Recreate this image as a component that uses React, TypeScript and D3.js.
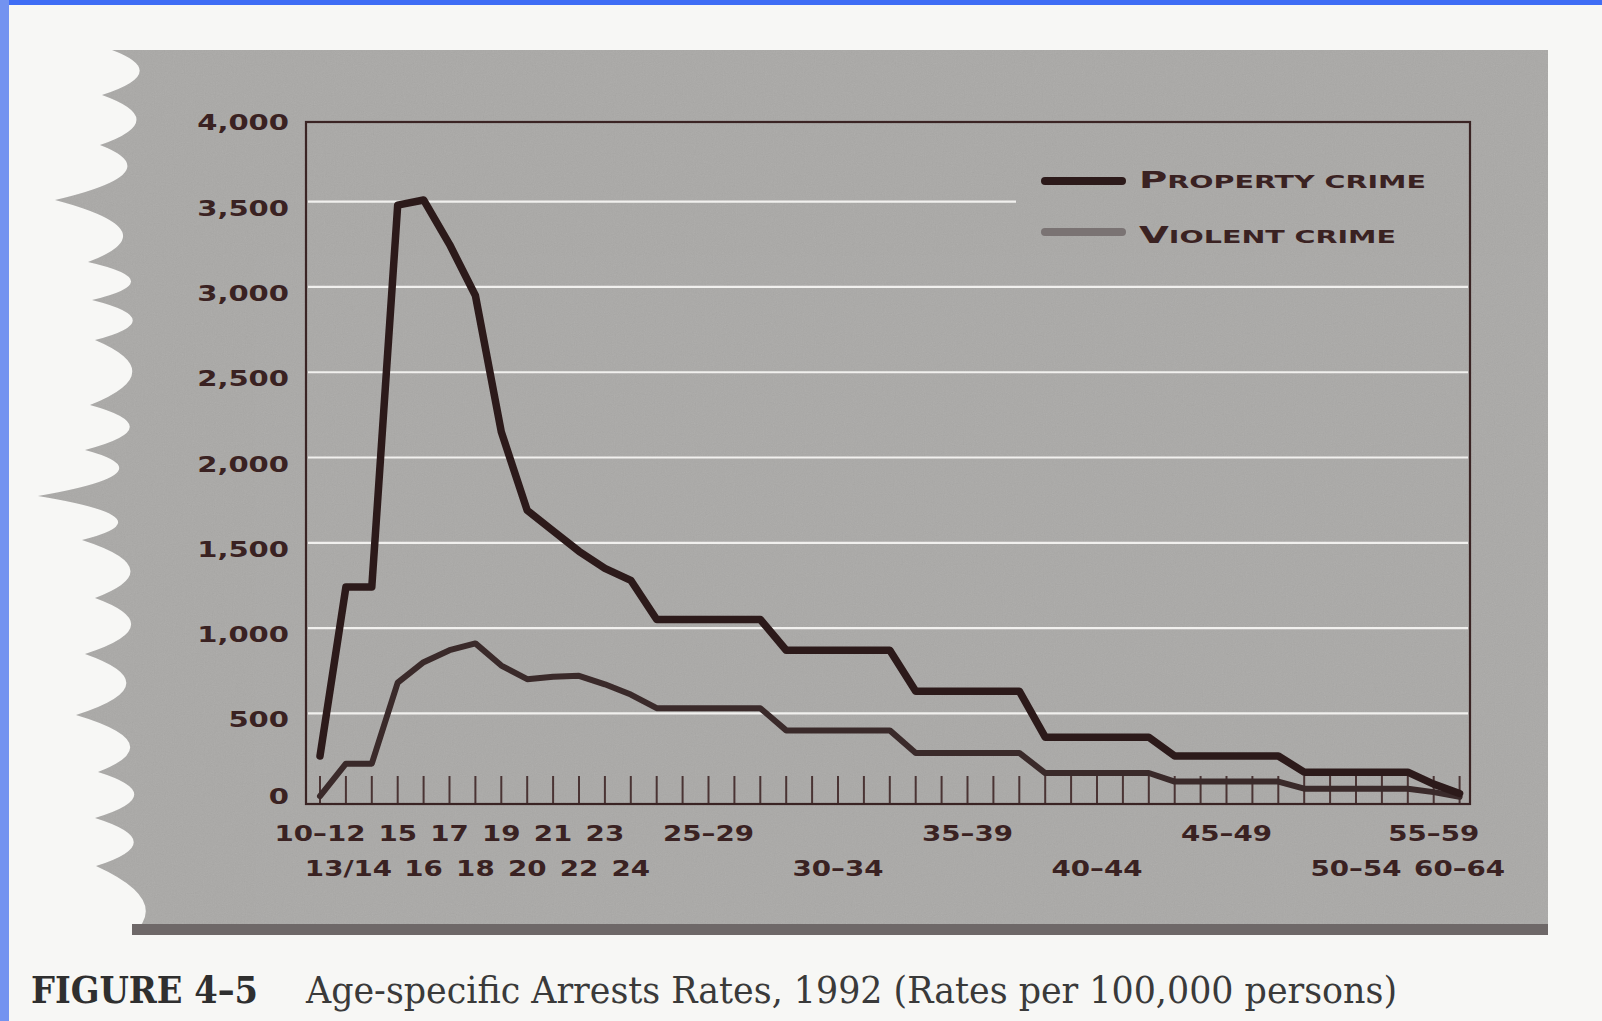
import React, { useEffect } from "react";
import * as d3 from "d3";

// ---- data ----
const categories = ["10–12","13/14","15","16","17","18","19","20","21","22","23","24","25–29","30–34","35–39","40–44","45–49","50–54","55–59","60–64"];
// axis position (one tick per year) where each age group starts / ends
const spanStart = [0,1,3,4,5,6,7,8,9,10,11,12,13,18,23,28,33,38,43,44];
const spanEnd   = [0,2,3,4,5,6,7,8,9,10,11,12,17,22,27,32,37,42,43,44];
const propertyCrime = [250,1240,3480,3510,3250,2950,2150,1690,1570,1450,1350,1280,1050,870,630,360,250,155,85,30];
const violentCrime  = [15,205,680,800,870,910,780,700,715,720,670,610,530,400,268,150,100,58,38,10];
const yTicks = [0,500,1000,1500,2000,2500,3000,3500,4000];
const tickCount = 45;

// decorative torn-paper edge (x tip, y)
const tornEdge: [number, number][] = [[112,50],[102,95],[100,145],[55,200],[88,262],[92,300],[95,340],[90,405],[85,450],[38,496],[82,540],[95,598],[85,654],[76,715],[98,772],[95,818],[96,866],[132,935]];

const W = 1602, H = 1021;
const box = { left: 306, right: 1470, top: 122, bottom: 804 };

export default function App() {
  useEffect(() => { document.body.style.margin = "0"; }, []);

  const x = d3.scaleLinear().domain([0, 44]).range([320, 1459.6]);
  const y = d3.scaleLinear().domain([0, 4000]).range([798.6, 116.4]);

  const pts = (vals: number[]) => {
    const out: [number, number][] = [];
    vals.forEach((v, i) => {
      out.push([spanStart[i], v]);
      if (spanEnd[i] !== spanStart[i]) out.push([spanEnd[i], v]);
    });
    return out;
  };
  const line = d3.line<[number, number]>().x(d => x(d[0])).y(d => y(d[1]));

  // torn edge path
  let edge = `M 1548 50 L 1548 935 L ${tornEdge[tornEdge.length - 1][0]} 935`;
  for (let i = tornEdge.length - 1; i > 0; i--) {
    const [x0, y0] = tornEdge[i];
    const [x1, y1] = tornEdge[i - 1];
    const cx = 172;
    edge += ` Q ${cx} ${(y0 + y1) / 2} ${x1} ${y1}`;
  }
  edge += " Z";

  const textColor = "#3a2222";
  const sx = 1.32;

  const labelPos = (i: number) => {
    const s = spanStart[i], e = spanEnd[i];
    return e - s === 1 ? s + 0.1 : (s + e) / 2;
  };

  return (
    <svg width={W} height={H} style={{ position: "absolute", left: 0, top: 0, display: "block" }}>
      <defs>
        <filter id="grain" x="0" y="0" width="100%" height="100%">
          <feTurbulence type="fractalNoise" baseFrequency="0.9" numOctaves="2" seed="3" />
          <feColorMatrix type="saturate" values="0" />
        </filter>
        <clipPath id="paperClip"><path d={edge} /></clipPath>
      </defs>
      <rect x={0} y={0} width={W} height={H} fill="#f7f7f5" />
      <rect x={0} y={0} width={W} height={5} fill="#3f6df5" />
      <rect x={0} y={0} width={9} height={H} fill="#7393f0" />

      {/* gray printed area */}
      <path d={edge} fill="#aaa9a7" />
      <g clipPath="url(#paperClip)" opacity={0.12}>
        <rect x={0} y={0} width={W} height={H} filter="url(#grain)" />
      </g>
      <rect x={132} y={924} width={1416} height={11} fill="#6e6868" />

      {/* gridlines */}
      {yTicks.filter(v => v > 0 && v < 4000).map(v => (
        <line key={v} x1={box.left + 2} x2={v === 3500 ? 1016 : box.right - 2} y1={y(v)} y2={y(v)} stroke="#f1f0ee" strokeWidth={2.2} />
      ))}

      {/* ticks */}
      {d3.range(tickCount).map(i => (
        <line key={i} x1={x(i)} x2={x(i)} y1={776} y2={box.bottom} stroke="#4a3434" strokeWidth={2} />
      ))}

      {/* frame */}
      <rect x={box.left} y={box.top} width={box.right - box.left} height={box.bottom - box.top} fill="none" stroke="#3a2424" strokeWidth={2.2} />

      {/* series */}
      <path d={line(pts(violentCrime)) || ""} fill="none" stroke="#3a2a2a" strokeWidth={6} strokeLinejoin="round" strokeLinecap="round" />
      <path d={line(pts(propertyCrime)) || ""} fill="none" stroke="#2c1a1a" strokeWidth={7.5} strokeLinejoin="round" strokeLinecap="round" />

      {/* y labels */}
      {yTicks.map(v => (
        <g key={v} transform={`translate(289, ${v === 0 ? y(v) + 5.5 : y(v) + 14})`}>
          <text textAnchor="end" transform={`scale(${sx},1)`} fontFamily="DejaVu Sans" fontWeight="bold" fontSize={22} fill={textColor}>
            {d3.format(",")(v)}
          </text>
        </g>
      ))}

      {/* x labels */}
      {categories.map((c, i) => (
        <g key={c} transform={`translate(${x(labelPos(i))}, ${i % 2 === 0 ? 841 : 876})`}>
          <text textAnchor="middle" transform={`scale(${sx - 0.06},1)`} fontFamily="DejaVu Sans" fontWeight="bold" fontSize={22} fill={textColor}>
            {c}
          </text>
        </g>
      ))}

      {/* legend */}
      <line x1={1045} x2={1122} y1={181} y2={181} stroke="#2c1a1a" strokeWidth={8} strokeLinecap="round" />
      <line x1={1045} x2={1122} y1={232} y2={232} stroke="#7a7373" strokeWidth={8} strokeLinecap="round" />
      <text x={1139} y={188} textLength={287} lengthAdjust="spacingAndGlyphs" fontFamily="DejaVu Sans" fontWeight="bold" fill={textColor}>
        <tspan fontSize={23}>P</tspan><tspan fontSize={17}>ROPERTY CRIME</tspan>
      </text>
      <text x={1139} y={243} textLength={257} lengthAdjust="spacingAndGlyphs" fontFamily="DejaVu Sans" fontWeight="bold" fill={textColor}>
        <tspan fontSize={23}>V</tspan><tspan fontSize={17}>IOLENT CRIME</tspan>
      </text>

      {/* caption */}
      <text x={31} y={1003} textLength={227} lengthAdjust="spacingAndGlyphs" fontFamily="DejaVu Serif" fontWeight="bold" fontSize={37} fill="#2f2f2f">
        FIGURE 4–5
      </text>
      <text x={306} y={1003} textLength={1091} lengthAdjust="spacingAndGlyphs" fontFamily="DejaVu Serif" fontSize={37} fill="#3a3a3a">
        Age-specific Arrests Rates, 1992 (Rates per 100,000 persons)
      </text>
    </svg>
  );
}
